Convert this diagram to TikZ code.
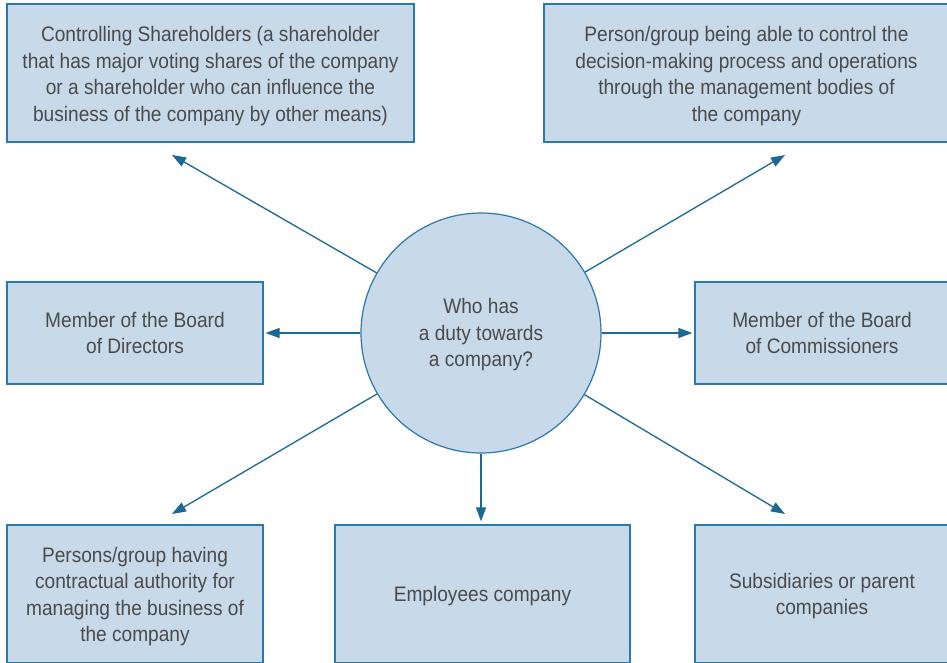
\documentclass[tikz,border=0pt]{standalone}
\usepackage{fontspec}
\setmainfont[FakeStretch=0.91]{Liberation Sans}
\usetikzlibrary{arrows.meta}
\definecolor{boxfill}{HTML}{C8D9E9}
\definecolor{boxline}{HTML}{2A79A8}
\definecolor{arrowcol}{HTML}{1A6896}
\definecolor{txtcol}{HTML}{4A4A4A}
\begin{document}
\begin{tikzpicture}[x=1pt,y=-1pt,
  box/.style={draw=boxline, fill=boxfill, line width=1.2pt, inner sep=0pt},
  txt/.style={align=center, text=txtcol, font=\fontsize{21}{26.5}\selectfont, inner sep=0pt},
  hub/.style={circle, draw=boxline, fill=boxfill, line width=1.2pt, minimum size=240pt, inner sep=0pt},
  conn/.style={draw=arrowcol, line width=1.3pt, -{Triangle[length=14pt,width=10pt]}}]
\useasboundingbox (0,0) rectangle (947,662);
\clip (0,0) rectangle (947,662);
\node[box, minimum width=407pt, minimum height=138pt] (tl) at (210.5,73) {};
\node[box, minimum width=405pt, minimum height=138pt] (tr) at (746.5,73) {};
\node[box, minimum width=256pt, minimum height=102pt] (ml) at (135,333) {};
\node[box, minimum width=254pt, minimum height=102pt] (mr) at (822,333) {};
\node[box, minimum width=256pt, minimum height=138pt] (bl) at (135,594) {};
\node[box, minimum width=295pt, minimum height=138pt] (bm) at (482.5,594) {};
\node[box, minimum width=254pt, minimum height=138pt] (br) at (822,594) {};
\node[hub] (c) at (481,333) {};
\node[txt] (tl-t) at ([yshift=-3pt]tl.center)
  {Controlling Shareholders (a shareholder\\that has major voting shares of the company\\or a shareholder who can influence the\\business of the company by other means)};
\node[txt] (tr-t) at ([yshift=-3pt]tr.center)
  {Person/group being able to control the\\decision-making process and operations\\through the management bodies of\\the company};
\node[txt] (ml-t) at (ml.center) {Member of the Board\\of Directors};
\node[txt] (mr-t) at (mr.center) {Member of the Board\\of Commissioners};
\node[txt] (bl-t) at ([yshift=-2.5pt]bl.center)
  {Persons/group having\\contractual authority for\\managing the business of\\the company};
\node[txt] (bm-t) at ([yshift=-2pt]bm.center) {Employees company};
\node[txt] (br-t) at ([yshift=-2pt]br.center) {Subsidiaries or parent\\companies};
\node[txt] (c-t) at ([yshift=-2pt]c.center) {Who has\\a duty towards\\a company?};
\coordinate (etl) at (172,155);
\coordinate (etr) at (785,155);
\coordinate (ebl) at (172,514);
\coordinate (ebr) at (785,514);
\draw[conn] (c) -- (etl);
\draw[conn] (c) -- (etr);
\draw[conn] (c) -- (ebl);
\draw[conn] (c) -- (ebr);
\draw[conn, shorten >=2pt] (c.west) -- (ml.east);
\draw[conn, shorten >=2pt] (c.east) -- (mr.west);
\draw[conn, shorten >=3pt] (c.south) -- (c.south |- bm.north);
\end{tikzpicture}
\end{document}
